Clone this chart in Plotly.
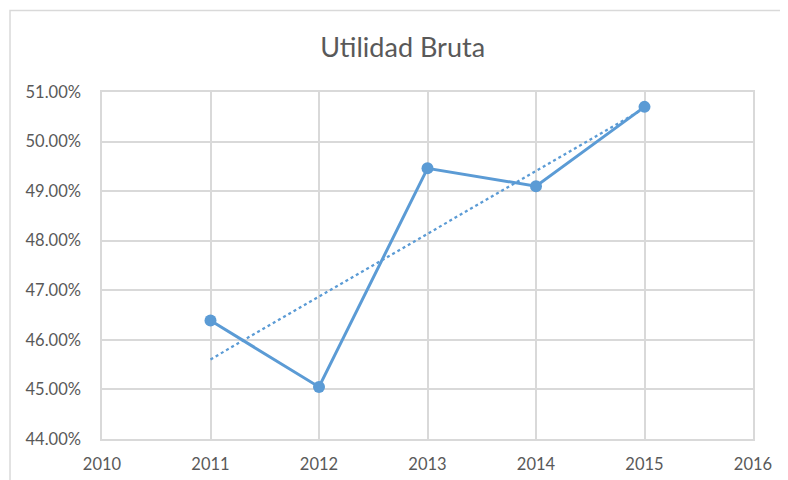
import numpy as np
import plotly.graph_objects as go

# data
years = [2011, 2012, 2013, 2014, 2015]
utilidad_bruta = [0.4639, 0.4505, 0.4946, 0.4910, 0.5070]
title_text = "Utilidad Bruta"

BLUE = "#5B9BD5"
GRID = "#D9D9D9"
TXT = "#595959"
FONT = "Lato, 'Open Sans', sans-serif"

# linear trendline (least squares) like Excel's
slope, icpt = np.polyfit(years, utilidad_bruta, 1)
trend = [slope * x + icpt for x in years]

fig = go.Figure()
fig.add_trace(go.Scatter(
    x=[years[0], years[-1]], y=[trend[0], trend[-1]], mode="lines",
    line=dict(color=BLUE, width=2.3, dash="dot"),
    showlegend=False, hoverinfo="skip",
))
fig.add_trace(go.Scatter(
    x=years, y=utilidad_bruta, mode="lines+markers",
    line=dict(color=BLUE, width=3),
    marker=dict(size=12, color=BLUE),
    showlegend=False,
    hovertemplate="%{x}: %{y:.2%}<extra></extra>",
))

# outer chart frame (extends off the page to the right and bottom)
fig.add_shape(type="rect", xref="paper", yref="paper",
              x0=-0.1413, x1=1.3, y0=-0.3, y1=1.2349,
              line=dict(color=GRID, width=1.5), fillcolor="rgba(0,0,0,0)", layer="below")

# the page body adds 8px, so the figure is 780x472
fig.update_layout(
    width=780, height=472,
    paper_bgcolor="white", plot_bgcolor="white",
    margin=dict(l=94, r=35, t=84, b=41, autoexpand=False),
    font=dict(family=FONT, color=TXT, size=16.5),
    title=dict(text=title_text, x=0.506, xref="container", xanchor="center",
               y=0.917, yref="container", yanchor="middle",
               font=dict(size=27, color=TXT, family=FONT)),
    xaxis=dict(range=[2010, 2016], dtick=1, tick0=2010, showgrid=True, gridcolor=GRID,
               gridwidth=1.5, showline=True, linecolor=GRID, linewidth=1.5, mirror=True,
               zeroline=False, ticks="", ticklabelstandoff=9, automargin=False,
               tickfont=dict(size=16.5, color=TXT)),
    yaxis=dict(range=[0.44, 0.51], dtick=0.01, tickformat=".2%", showgrid=True,
               gridcolor=GRID, gridwidth=1.5, showline=True, linecolor=GRID,
               linewidth=1.5, mirror=True, zeroline=False, ticks="", automargin=False,
               ticklabelstandoff=16, tickfont=dict(size=16.5, color=TXT)),
)

fig.write_html("out.html")
